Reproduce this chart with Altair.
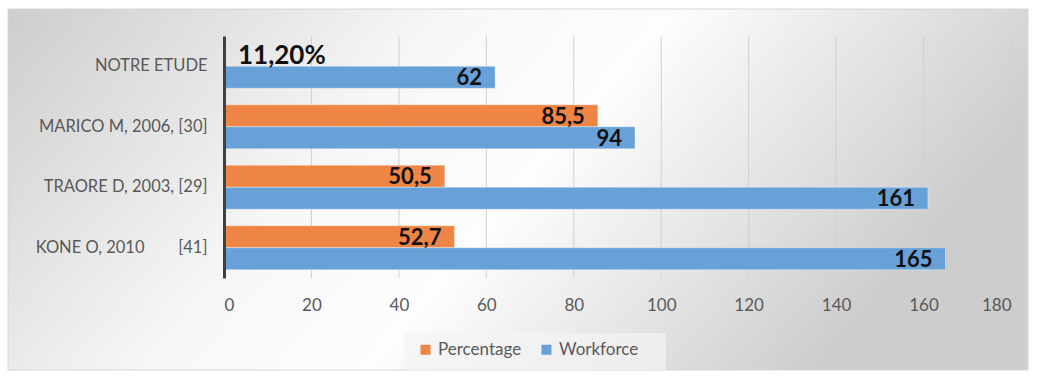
import altair as alt
import pandas as pd

categories = ["NOTRE ETUDE", "MARICO M, 2006, [30]", "TRAORE D, 2003, [29]",
              "KONE O, 2010\u00a0\u00a0\u00a0\u00a0\u00a0\u00a0\u00a0\u00a0[41]"]
series = ["Percentage", "Workforce"]
percentage = [0.112, 85.5, 50.5, 52.7]
percentage_labels = ["11,20%", "85,5", "50,5", "52,7"]
workforce = [62, 94, 161, 165]
workforce_labels = ["62", "94", "161", "165"]
x_ticks = [0, 20, 40, 60, 80, 100, 120, 140, 160, 180]
colors = ["#EE8544", "#67A1D8"]

rows = []
for c, p, pl, w, wl in zip(categories, percentage, percentage_labels, workforce, workforce_labels):
    rows.append({"cat": c, "series": "Percentage", "value": p, "label": pl, "small": p < 5})
    rows.append({"cat": c, "series": "Workforce", "value": w, "label": wl, "small": w < 5})
df = pd.DataFrame(rows)

W, H = 787, 242
FONT = "Lato"

xsc = alt.Scale(domain=[0, 180], nice=False)

bg = alt.Chart(pd.DataFrame({"a": [0]})).mark_rect(
    color=alt.LinearGradient(
        gradient="linear", x1=0, y1=0, x2=1, y2=0.3,
        stops=[alt.GradientStop(color="#cdcdcd", offset=0),
               alt.GradientStop(color="#f7f7f7", offset=0.4),
               alt.GradientStop(color="#fdfdfd", offset=0.6),
               alt.GradientStop(color="#cdcdcd", offset=1)]),
    stroke="#d6d6d6", strokeWidth=1
).encode(x=alt.value(-216), x2=alt.value(804), y=alt.value(-27), y2=alt.value(334))

legend_bg = alt.Chart(pd.DataFrame({"a": [0]})).mark_rect(
    color="#f4f4f4", opacity=0.7
).encode(x=alt.value(180), x2=alt.value(442), y=alt.value(297), y2=alt.value(334))

grid = alt.Chart(pd.DataFrame({"t": x_ticks})).mark_rule(
    color="#d0d0d0", strokeWidth=1
).encode(x=alt.X("t:Q", scale=xsc), y=alt.value(0), y2=alt.value(H))

ysc = alt.Scale(domain=categories, paddingInner=0.273, paddingOuter=0.137)
base = alt.Chart(df).encode(
    y=alt.Y("cat:N", sort=categories, scale=ysc, title=None,
            axis=alt.Axis(domain=True, domainColor="#404040", domainWidth=3, ticks=False,
                          labelColor="#595959", labelFont=FONT, labelFontSize=16.5,
                          labelPadding=17, grid=False, labelLimit=300, zindex=1)),
    yOffset=alt.YOffset("series:N", sort=series, scale=alt.Scale(domain=series, paddingInner=0, paddingOuter=0)),
)

bars = base.mark_bar(stroke="#ffffff", strokeWidth=0.6, strokeOpacity=0.6).encode(
    x=alt.X("value:Q", scale=xsc, title=None,
            axis=alt.Axis(values=x_ticks, domain=False, ticks=False, grid=False,
                          labelColor="#595959", labelFont=FONT, labelFontSize=17,
                          labelPadding=19, zindex=1)),
    color=alt.Color("series:N", sort=series,
                    scale=alt.Scale(domain=series, range=colors),
                    legend=alt.Legend(title=None, orient="none", legendX=193, legendY=305,
                                      direction="horizontal", symbolType="square",
                                      symbolSize=100, symbolStrokeWidth=0,
                                      labelFont=FONT, labelFontSize=17,
                                      labelColor="#595959", columnPadding=16)),
)

labels = base.transform_filter("!datum.small").mark_text(
    align="right", baseline="middle", dx=-13, dy=1, font=FONT, fontWeight="bold",
    fontSize=22, color="#111111"
).encode(x="value:Q", text="label:N")

small_labels = base.transform_filter("datum.small").mark_text(
    align="left", baseline="middle", dx=14, dy=1, font=FONT, fontWeight="bold",
    fontSize=26, color="#111111"
).encode(x=alt.value(0), text="label:N")

chart = alt.layer(bg, legend_bg, grid, bars, labels, small_labels).properties(
    width=W, height=H,
    autosize=alt.AutoSizeParams(type="none"),
    padding={"left": 224, "top": 36, "right": 27, "bottom": 100},
    background="#ffffff",
).configure_view(stroke=None)

chart.save("out.html", embed_options={"renderer": "svg", "actions": False})
